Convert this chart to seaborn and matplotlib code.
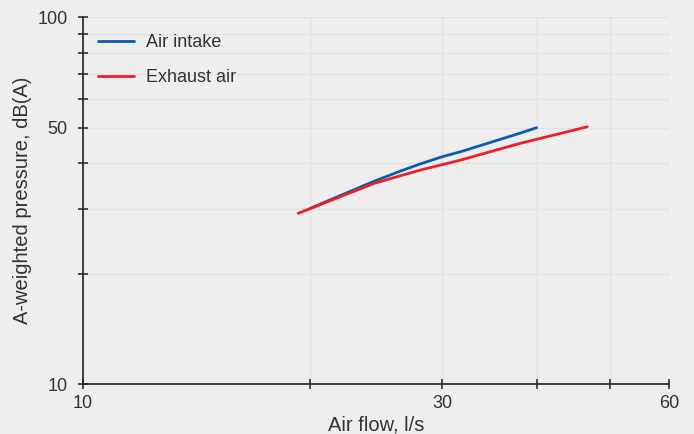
import pandas as pd
import matplotlib
matplotlib.use("Agg")
import matplotlib.pyplot as plt
from matplotlib.ticker import FixedLocator, NullFormatter, FixedFormatter
import seaborn as sns

## data (log-log chart)
intake_flow = [20.0, 21.6, 24.4, 26.4, 28.0, 30.0, 31.7, 38.0, 40.0]
intake_db = [30.1, 32.2, 35.8, 38.1, 39.8, 41.7, 43.0, 48.3, 50.0]
exhaust_flow = [19.3, 21.6, 24.4, 26.4, 28.0, 31.7, 38.0, 46.7]
exhaust_db = [29.2, 32.0, 35.3, 37.0, 38.3, 40.8, 45.3, 50.3]

x_major = [10, 30, 60]
x_minor = [20, 40, 50]
y_major = [10, 50, 100]
y_minor = [20, 30, 40, 60, 70, 80, 90]

df = pd.concat([
    pd.DataFrame({"flow": intake_flow, "db": intake_db, "series": "Air intake"}),
    pd.DataFrame({"flow": exhaust_flow, "db": exhaust_db, "series": "Exhaust air"}),
])

bg = "#eeeeee"
sns.set_style("white", {"axes.facecolor": bg, "figure.facecolor": bg})
plt.rcParams["font.family"] = ["Liberation Sans", "DejaVu Sans"]
plt.rcParams["text.color"] = "#333333"

fig = plt.figure(figsize=(6.94, 4.34), dpi=100)
ax = fig.add_axes([0.1196, 0.1152, 0.9644 - 0.1196, 0.960 - 0.1152])

sns.lineplot(data=df, x="flow", y="db", hue="series",
             palette={"Air intake": "#0b5cae", "Exhaust air": "#ec2028"},
             linewidth=2, ax=ax, sort=False)

ax.set_xscale("log")
ax.set_yscale("log")
ax.set_xlim(10, 60)
ax.set_ylim(10, 100)

ax.xaxis.set_major_locator(FixedLocator(x_major))
ax.xaxis.set_major_formatter(FixedFormatter([str(v) for v in x_major]))
ax.xaxis.set_minor_locator(FixedLocator(x_minor))
ax.xaxis.set_minor_formatter(NullFormatter())
ax.yaxis.set_major_locator(FixedLocator(y_major))
ax.yaxis.set_major_formatter(FixedFormatter([str(v) for v in y_major]))
ax.yaxis.set_minor_locator(FixedLocator(y_minor))
ax.yaxis.set_minor_formatter(NullFormatter())

ax.grid(True, which="both", color="#e2e2e2", linewidth=1)
ax.set_axisbelow(True)

for s in ["top", "right"]:
    ax.spines[s].set_visible(False)
for s in ["left", "bottom"]:
    ax.spines[s].set_color("#222222")
    ax.spines[s].set_linewidth(1.2)

ax.tick_params(axis="both", which="both", direction="inout", length=6.5,
               width=1.1, color="#222222", labelsize=13, labelcolor="#333333",
               bottom=True, left=True)
ax.tick_params(axis="x", which="both", pad=5)
ax.tick_params(axis="y", which="both", pad=8)

ax.set_xlabel("Air flow, l/s", fontsize=14.5, color="#333333", labelpad=2)
ax.set_ylabel("A-weighted pressure, dB(A)", fontsize=14.5, color="#333333", labelpad=4)

ax.legend(title=None, loc="upper left", frameon=False, fontsize=13,
          handlelength=1.95, handletextpad=0.7, labelspacing=1.0,
          bbox_to_anchor=(0.0, 0.996), borderaxespad=0.45)

fig.savefig("out.png", dpi=100, facecolor=bg)
